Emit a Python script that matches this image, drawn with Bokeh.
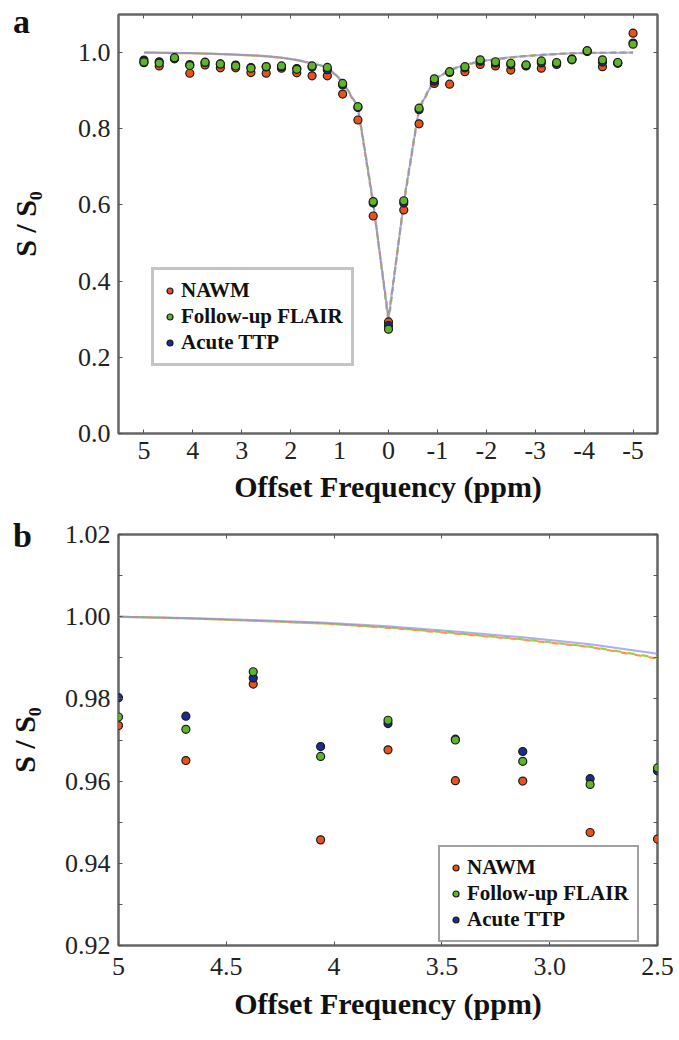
from bokeh.plotting import figure
from bokeh.models import (Range1d, FixedTicker, LinearAxis, Legend,
                          LegendItem, ColumnDataSource, Div)
from bokeh.layouts import column
from bokeh.embed import file_html
from bokeh.resources import INLINE

# ---------------- data ----------------
offsets = [5, 4.6875, 4.375, 4.0625, 3.75, 3.4375, 3.125, 2.8125, 2.5,
           2.1875, 1.875, 1.5625, 1.25, 0.9375, 0.625, 0.3125, 0,
           -0.3125, -0.625, -0.9375, -1.25, -1.5625, -1.875, -2.1875, -2.5,
           -2.8125, -3.125, -3.4375, -3.75, -4.0625, -4.375, -4.6875, -5]

nawm = [0.9735, 0.9650, 0.9836, 0.9457, 0.9676, 0.9601, 0.9600, 0.9475, 0.9459,
        0.959, 0.947, 0.939, 0.939, 0.891, 0.823, 0.571, 0.293,
        0.587, 0.813, 0.919, 0.917, 0.950, 0.969, 0.965, 0.954,
        0.965, 0.959, 0.969, 0.981, 1.003, 0.963, 0.972, 1.051]

flair = [0.9756, 0.9726, 0.9866, 0.9660, 0.9748, 0.9700, 0.9648, 0.9592, 0.9632,
         0.965, 0.956, 0.965, 0.961, 0.919, 0.858, 0.609, 0.274,
         0.611, 0.854, 0.931, 0.950, 0.963, 0.981, 0.976, 0.972,
         0.968, 0.978, 0.974, 0.982, 1.005, 0.981, 0.974, 1.022]

ttp = [0.9803, 0.9758, 0.9851, 0.9684, 0.9740, 0.9702, 0.9672, 0.9606, 0.9625,
       0.963, 0.958, 0.962, 0.955, 0.915, 0.856, 0.605, 0.283,
       0.605, 0.850, 0.925, 0.948, 0.960, 0.977, 0.973, 0.968,
       0.966, 0.973, 0.972, 0.983, 1.004, 0.975, 0.973, 1.025]

fit_nawm = [1.0000, 0.9996, 0.9990, 0.9984, 0.9973, 0.9959, 0.9944, 0.9926, 0.9898,
            0.986, 0.980, 0.971, 0.960, 0.922, 0.853, 0.600, 0.305,
            0.602, 0.850, 0.928, 0.953, 0.967, 0.976, 0.982, 0.987,
            0.991, 0.994, 0.996, 0.998, 0.999, 0.9995, 0.9998, 1.0]

fit_flair = [1.0000, 0.9996, 0.9990, 0.9984, 0.9974, 0.9960, 0.9945, 0.9927, 0.9900,
             0.986, 0.980, 0.972, 0.962, 0.925, 0.858, 0.608, 0.290,
             0.610, 0.856, 0.931, 0.955, 0.968, 0.977, 0.983, 0.987,
             0.991, 0.994, 0.996, 0.998, 0.999, 0.9995, 0.9998, 1.0]

fit_ttp = [1.0000, 0.9997, 0.9992, 0.9986, 0.9977, 0.9964, 0.9950, 0.9933, 0.9910,
           0.987, 0.981, 0.972, 0.962, 0.924, 0.857, 0.606, 0.300,
           0.606, 0.853, 0.929, 0.954, 0.968, 0.977, 0.983, 0.988,
           0.991, 0.994, 0.996, 0.998, 0.999, 0.9995, 0.9998, 1.0]

series_names = ["NAWM", "Follow-up FLAIR", "Acute TTP"]
panel_letters = ["a", "b"]

a_xticks = [5, 4, 3, 2, 1, 0, -1, -2, -3, -4, -5]
a_xtick_labels = ["5", "4", "3", "2", "1", "0", "-1", "-2", "-3", "-4", "-5"]
a_yticks = [0.0, 0.2, 0.4, 0.6, 0.8, 1.0]
a_ytick_labels = ["0.0", "0.2", "0.4", "0.6", "0.8", "1.0"]

b_xticks = [5, 4.5, 4, 3.5, 3, 2.5]
b_xtick_labels = ["5", "4.5", "4", "3.5", "3.0", "2.5"]
b_yticks = [0.92, 0.94, 0.96, 0.98, 1.00, 1.02]
b_ytick_labels = ["0.92", "0.94", "0.96", "0.98", "1.00", "1.02"]
b_yminor = [0.93, 0.95, 0.97, 0.99, 1.01]

# ---------------- style ----------------
SERIF = "Liberation Serif"
C_NAWM = "#e8531d"
C_FLAIR = "#5fb52a"
C_TTP = "#1d2a8e"
L_NAWM = "#f59a55"
L_FLAIR = "#9ccf3c"
L_TTP = "#8c8ce0"
FRAME = "#666666"


def style_axis(ax, tick_standoff, label_standoff):
    ax.major_label_text_font = SERIF
    ax.major_label_text_font_size = "26px"
    ax.major_label_text_color = "#222222"
    ax.major_label_standoff = tick_standoff
    ax.axis_label_text_font = SERIF
    ax.axis_label_text_font_style = "bold"
    ax.axis_label_text_font_size = "30px"
    ax.axis_label_text_color = "#111111"
    ax.axis_label_standoff = label_standoff
    ax.major_tick_in = 4
    ax.major_tick_out = 0
    ax.minor_tick_in = 4
    ax.minor_tick_out = 0
    ax.major_tick_line_color = "#555555"
    ax.minor_tick_line_color = "#555555"
    ax.axis_line_color = None


def mirror_axis(ticker):
    ax = LinearAxis(ticker=ticker)
    ax.major_label_text_font_size = "1px"
    ax.major_label_text_color = None
    ax.major_label_standoff = 0
    ax.major_tick_in = 4
    ax.major_tick_out = 0
    ax.minor_tick_in = 4
    ax.minor_tick_out = 0
    ax.major_tick_line_color = "#555555"
    ax.minor_tick_line_color = "#555555"
    ax.axis_line_color = None
    return ax


def make_panel(xs, ys_list, fits, xr, yr, xticker, yticker, xover, yover,
               width, height, borders, tick_std, lab_std, dash, legend_loc,
               legend_border, legend_bw, msize):
    bl, br, bt, bb = borders
    p = figure(width=width, height=height, output_backend="svg",
               toolbar_location=None, x_range=xr, y_range=yr,
               min_border_left=bl, min_border_right=br,
               min_border_top=bt, min_border_bottom=bb,
               x_axis_label="Offset Frequency (ppm)", y_axis_label="S / S\u2080")
    p.grid.visible = False
    p.outline_line_color = FRAME
    p.outline_line_width = 2.5
    p.background_fill_color = "white"
    p.border_fill_color = "white"

    p.xaxis.ticker = xticker
    p.yaxis.ticker = yticker
    p.xaxis.major_label_overrides = xover
    p.yaxis.major_label_overrides = yover
    style_axis(p.xaxis[0], tick_std[0], lab_std[0])
    style_axis(p.yaxis[0], tick_std[1], lab_std[1])
    if not xticker.minor_ticks:
        p.xaxis.minor_tick_line_color = None
    if not yticker.minor_ticks:
        p.yaxis.minor_tick_line_color = None

    top = mirror_axis(xticker)
    right = mirror_axis(yticker)
    if not xticker.minor_ticks:
        top.minor_tick_line_color = None
    if not yticker.minor_ticks:
        right.minor_tick_line_color = None
    p.add_layout(top, "above")
    p.add_layout(right, "right")

    src = ColumnDataSource(dict(x=xs, n=ys_list[0], f=ys_list[1], t=ys_list[2],
                                fn=fits[0], ff=fits[1], ft=fits[2]))
    on, of = dash
    p.line("x", "fn", source=src, line_color=L_NAWM, line_width=2.2,
           line_dash=on, line_dash_offset=0)
    p.line("x", "ff", source=src, line_color=L_FLAIR, line_width=2.2,
           line_dash=on, line_dash_offset=of)
    p.line("x", "ft", source=src, line_color=L_TTP, line_width=2.0, line_alpha=0.7)

    r_n = p.scatter("x", "n", source=src, size=msize, fill_color=C_NAWM,
                    line_color="#1a1a1a", line_width=1.2)
    r_t = p.scatter("x", "t", source=src, size=msize, fill_color=C_TTP,
                    line_color="#1a1a1a", line_width=1.2)
    r_f = p.scatter("x", "f", source=src, size=msize, fill_color=C_FLAIR,
                    line_color="#1a1a1a", line_width=1.2)

    leg = Legend(items=[LegendItem(label=series_names[0], renderers=[r_n]),
                        LegendItem(label=series_names[1], renderers=[r_f]),
                        LegendItem(label=series_names[2], renderers=[r_t])],
                 location=legend_loc)
    leg.label_text_font = SERIF
    leg.label_text_font_style = "bold"
    leg.label_text_font_size = "21px"
    leg.label_text_color = "#111111"
    leg.border_line_color = legend_border
    leg.border_line_width = legend_bw
    leg.background_fill_color = "white"
    leg.background_fill_alpha = 1.0
    leg.padding = 8
    leg.spacing = 1
    leg.margin = 0
    leg.glyph_width = 15
    leg.glyph_height = 15
    leg.label_standoff = 4
    p.add_layout(leg)
    return p


def letter_div(letter, top):
    return Div(text=letter, styles={
        "position": "absolute", "left": "13px", "top": f"{top}px",
        "margin": "0", "padding": "0",
        "font-family": SERIF, "font-weight": "bold", "font-size": "34px",
        "line-height": "34px", "color": "#111111", "z-index": "10"})


pa = make_panel(offsets, [nawm, flair, ttp], [fit_nawm, fit_flair, fit_ttp],
                Range1d(5.52, -5.5), Range1d(0.0, 1.1),
                FixedTicker(ticks=a_xticks), FixedTicker(ticks=a_yticks),
                dict(zip(a_xticks, a_xtick_labels)), dict(zip(a_yticks, a_ytick_labels)),
                679, 515, (118, 22, 14, 82), (8, 8), (8, 33), ("5 5", 5),
                (33, 67), "#8a8a8a", 3, 8)

nb = len(b_xticks) + 3
pb = make_panel(offsets[:nb], [nawm[:nb], flair[:nb], ttp[:nb]],
                [fit_nawm[:nb], fit_flair[:nb], fit_ttp[:nb]],
                Range1d(5, 2.5), Range1d(0.92, 1.02),
                FixedTicker(ticks=b_xticks), FixedTicker(ticks=b_yticks, minor_ticks=b_yminor),
                dict(zip(b_xticks, b_xtick_labels)), dict(zip(b_yticks, b_ytick_labels)),
                679, 525, (118, 22, 19, 95), (12, 8), (9, 21), ("7 7", 7),
                (320, 3), "#444444", 2, 8)

layout = column(pa, pb, letter_div(panel_letters[0], 5),
                letter_div(panel_letters[1], 519), spacing=0)
open("out.html", "w").write(file_html(layout, INLINE))
